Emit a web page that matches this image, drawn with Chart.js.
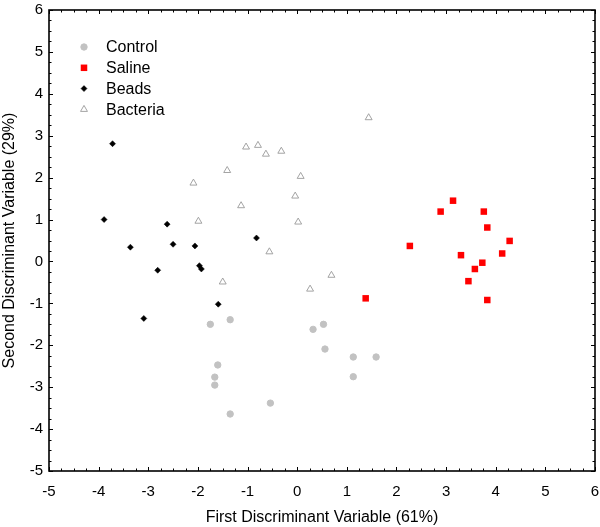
<!DOCTYPE html>
<html>
<head>
<meta charset="utf-8">
<script src="https://cdn.jsdelivr.net/npm/chart.js@4.4.0/dist/chart.umd.min.js"></script>
<style>
  html, body { margin: 0; padding: 0; background: #fff; }
  #wrap { width: 600px; height: 527px; }
</style>
</head>
<body>
<div id="wrap"><canvas id="chart" width="600" height="527"></canvas></div>
<script>
// ---- data: [first DV, second DV] ----
const controlPts = [
  [-1.75, -1.50], [-1.35, -1.39], [-1.60, -2.47], [-1.66, -2.76], [-1.66, -2.95],
  [-1.35, -3.64], [-0.54, -3.38], [0.32, -1.62], [0.53, -1.50], [0.56, -2.09],
  [1.13, -2.28], [1.59, -2.28], [1.13, -2.75]
];
const salinePts = [
  [1.38, -0.88], [2.27, 0.37], [2.89, 1.19], [3.14, 1.45], [3.30, 0.15],
  [3.45, -0.47], [3.58, -0.18], [3.73, -0.03], [3.76, 1.19], [3.83, 0.81],
  [3.83, -0.92], [4.13, 0.19], [4.28, 0.49]
];
const beadsPts = [
  [-3.72, 2.81], [-3.89, 1.00], [-2.62, 0.89], [-3.36, 0.34], [-2.50, 0.41],
  [-2.06, 0.37], [-0.82, 0.56], [-2.81, -0.21], [-1.97, -0.10], [-1.93, -0.18],
  [-1.59, -1.02], [-3.09, -1.36]
];
const bacteriaPts = [
  [-2.09, 1.87], [-1.99, 0.96], [-1.41, 2.17], [-1.13, 1.33], [-1.03, 2.73],
  [-0.79, 2.77], [-0.63, 2.56], [-0.32, 2.63], [-0.56, 0.23], [0.07, 2.03],
  [-0.04, 1.56], [0.02, 0.94], [-1.50, -0.49], [0.26, -0.66], [0.69, -0.33],
  [1.44, 3.43]
];
const seriesNames = ['Control', 'Saline', 'Beads', 'Bacteria'];
const axisMin = -5;
const axisMax = 6;
const minorStep = 0.25;
const xTitle = 'First Discriminant Variable (61%)';
const yTitle = 'Second Discriminant Variable (29%)';

const FONT = '"Liberation Sans", Arial, Helvetica, sans-serif';

const toXY = pts => pts.map(p => ({ x: p[0], y: p[1] }));

// frame + inward major/minor ticks on all four sides
const frameTicks = {
  id: 'frameTicks',
  afterDraw(chart) {
    const { ctx, chartArea: a, scales: { x, y } } = chart;
    ctx.save();
    ctx.strokeStyle = '#000';
    ctx.lineWidth = 1;
    ctx.beginPath();
    const n = Math.round((axisMax - axisMin) / minorStep);
    const per = Math.round(1 / minorStep);
    for (let i = 0; i <= n; i++) {
      const v = axisMin + i * minorStep;
      const len = i % per === 0 ? 4 : 2.5;
      const px = Math.round(x.getPixelForValue(v)) + 0.5;
      ctx.moveTo(px, a.bottom); ctx.lineTo(px, a.bottom - len);
      ctx.moveTo(px, a.top); ctx.lineTo(px, a.top + len);
      const py = Math.round(y.getPixelForValue(v)) + 0.5;
      ctx.moveTo(a.left, py); ctx.lineTo(a.left + len, py);
      ctx.moveTo(a.right, py); ctx.lineTo(a.right - len, py);
    }
    ctx.stroke();
    ctx.lineWidth = 1.6;
    ctx.strokeRect(a.left, a.top, a.right - a.left, a.bottom - a.top);
    ctx.restore();
  }
};

// legend drawn inside the plot, top-left
const insideLegend = {
  id: 'insideLegend',
  afterDraw(chart) {
    const { ctx } = chart;
    ctx.save();
    ctx.font = '16px ' + FONT;
    ctx.textBaseline = 'middle';
    chart.data.datasets.forEach((ds, i) => {
      const mx = 84;
      const my = 47 + i * 20.8;
      ctx.fillStyle = ds.backgroundColor;
      ctx.strokeStyle = ds.borderColor;
      ctx.lineWidth = ds.borderWidth;
      Chart.helpers.drawPoint(ctx, {
        pointStyle: ds.pointStyle,
        radius: ds.pointRadius,
        rotation: 0,
        borderWidth: ds.borderWidth
      }, mx, my);
      ctx.fillStyle = '#000';
      ctx.fillText(ds.label, 106, my + 1);
    });
    ctx.restore();
  }
};

new Chart(document.getElementById('chart'), {
  type: 'scatter',
  data: {
    datasets: [
      {
        label: seriesNames[0], data: toXY(controlPts),
        pointStyle: 'circle', pointRadius: 3.2,
        backgroundColor: '#c2c2c2', borderColor: '#c2c2c2', borderWidth: 1
      },
      {
        label: seriesNames[1], data: toXY(salinePts),
        pointStyle: 'rect', pointRadius: 4.6,
        backgroundColor: '#ff0000', borderColor: '#ff0000', borderWidth: 0
      },
      {
        label: seriesNames[2], data: toXY(beadsPts),
        pointStyle: 'rectRot', pointRadius: 3,
        backgroundColor: '#000', borderColor: '#000', borderWidth: 0.5
      },
      {
        label: seriesNames[3], data: toXY(bacteriaPts),
        pointStyle: 'triangle', pointRadius: 4,
        backgroundColor: '#fff', borderColor: '#9a9a9a', borderWidth: 0.9
      }
    ]
  },
  options: {
    responsive: false,
    animation: false,
    events: [],
    layout: { padding: { top: 10, right: 4, left: 0, bottom: 0 } },
    plugins: {
      legend: { display: false },
      tooltip: { enabled: false }
    },
    scales: {
      x: {
        type: 'linear', min: axisMin, max: axisMax,
        grid: { display: false, drawTicks: false },
        border: { display: false },
        ticks: { stepSize: 1, color: '#000', padding: 12, font: { family: FONT, size: 15 } },
        title: { display: true, text: xTitle, color: '#000', padding: 0, font: { family: FONT, size: 16 } },
        afterFit(scale) {
          scale.height = 56;
          scale.paddingLeft = 0;
          scale.paddingRight = 0;
        }
      },
      y: {
        type: 'linear', min: axisMin, max: axisMax,
        grid: { display: false, drawTicks: false },
        border: { display: false },
        ticks: { stepSize: 1, color: '#000', padding: 6, font: { family: FONT, size: 15 } },
        title: { display: true, text: yTitle, color: '#000', padding: 0, font: { family: FONT, size: 16 } },
        afterFit(scale) {
          scale.width = 49;
          scale.paddingTop = 0;
          scale.paddingBottom = 0;
        }
      }
    }
  },
  plugins: [frameTicks, insideLegend]
});
</script>
</body>
</html>
